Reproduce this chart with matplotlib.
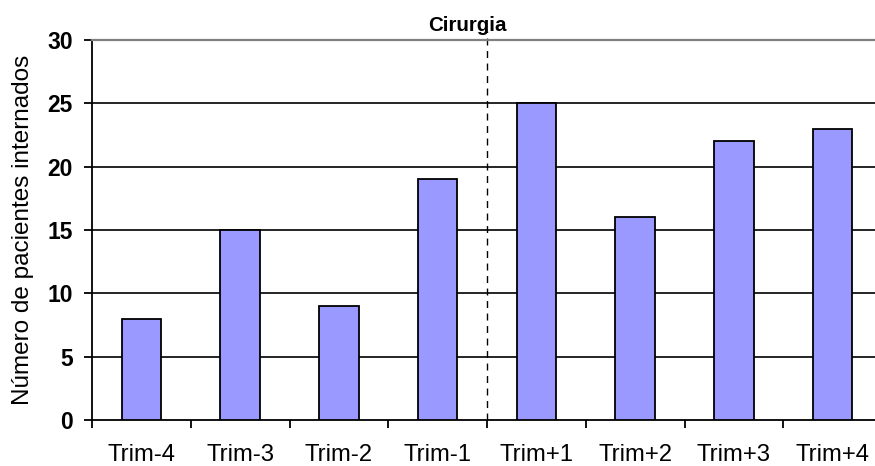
import matplotlib
matplotlib.use("Agg")
import matplotlib.pyplot as plt
import numpy as np

categories = ["Trim-4", "Trim-3", "Trim-2", "Trim-1", "Trim+1", "Trim+2", "Trim+3", "Trim+4"]
values = [8, 15, 9, 19, 25, 16, 22, 23]
y_ticks = [0, 5, 10, 15, 20, 25, 30]
ylabel = "Número de pacientes internados"
marker_label = "Cirurgia"

plt.rcParams['font.family'] = ['Liberation Sans', 'DejaVu Sans']

fig = plt.figure(figsize=(8.75, 4.66), dpi=100)
W, H = 875, 466
left, right, top, bottom = 92, 882, 40, 420
ax = fig.add_axes([left / W, 1 - bottom / H, (right - left) / W, (bottom - top) / H])

x = np.arange(len(categories))
ax.set_xlim(-0.5, len(categories) - 0.5)
ax.set_ylim(0, 30)

for yv in y_ticks[1:-1]:
    ax.axhline(yv, color="black", linewidth=1.2, zorder=1)

ax.bar(x, values, width=0.4, color="#9999FF", edgecolor="black", linewidth=1.3, zorder=3)

ax.plot([3.5, 3.5], [0, 30.75], color="black", linewidth=1.0,
        linestyle=(0, (5, 4)), zorder=2, clip_on=False)
ax.text(3.3, 30.7, marker_label, ha="center", va="baseline", fontsize=14.8, fontweight="bold")

ax.set_yticks(y_ticks)
ax.set_yticklabels([str(v) for v in y_ticks], fontsize=16.5, fontweight="bold")
ax.set_xticks(x)
ax.set_xticklabels(categories, fontsize=17.2)
ax.set_xticks(np.arange(-0.5, len(categories), 1.0), minor=True)
ax.tick_params(axis="x", which="major", length=0, pad=17)
ax.tick_params(axis="x", which="minor", length=5.5, width=1.3, color="black")
ax.tick_params(axis="y", length=6, width=1.3, pad=8)

ax.spines["left"].set_linewidth(1.3)
ax.spines["bottom"].set_linewidth(1.3)
ax.spines["top"].set_color("#808080")
ax.spines["top"].set_linewidth(1.6)
ax.spines["right"].set_visible(False)

ax.set_ylabel(ylabel, fontsize=17.5, labelpad=9)

fig.savefig("out.png", dpi=100)
